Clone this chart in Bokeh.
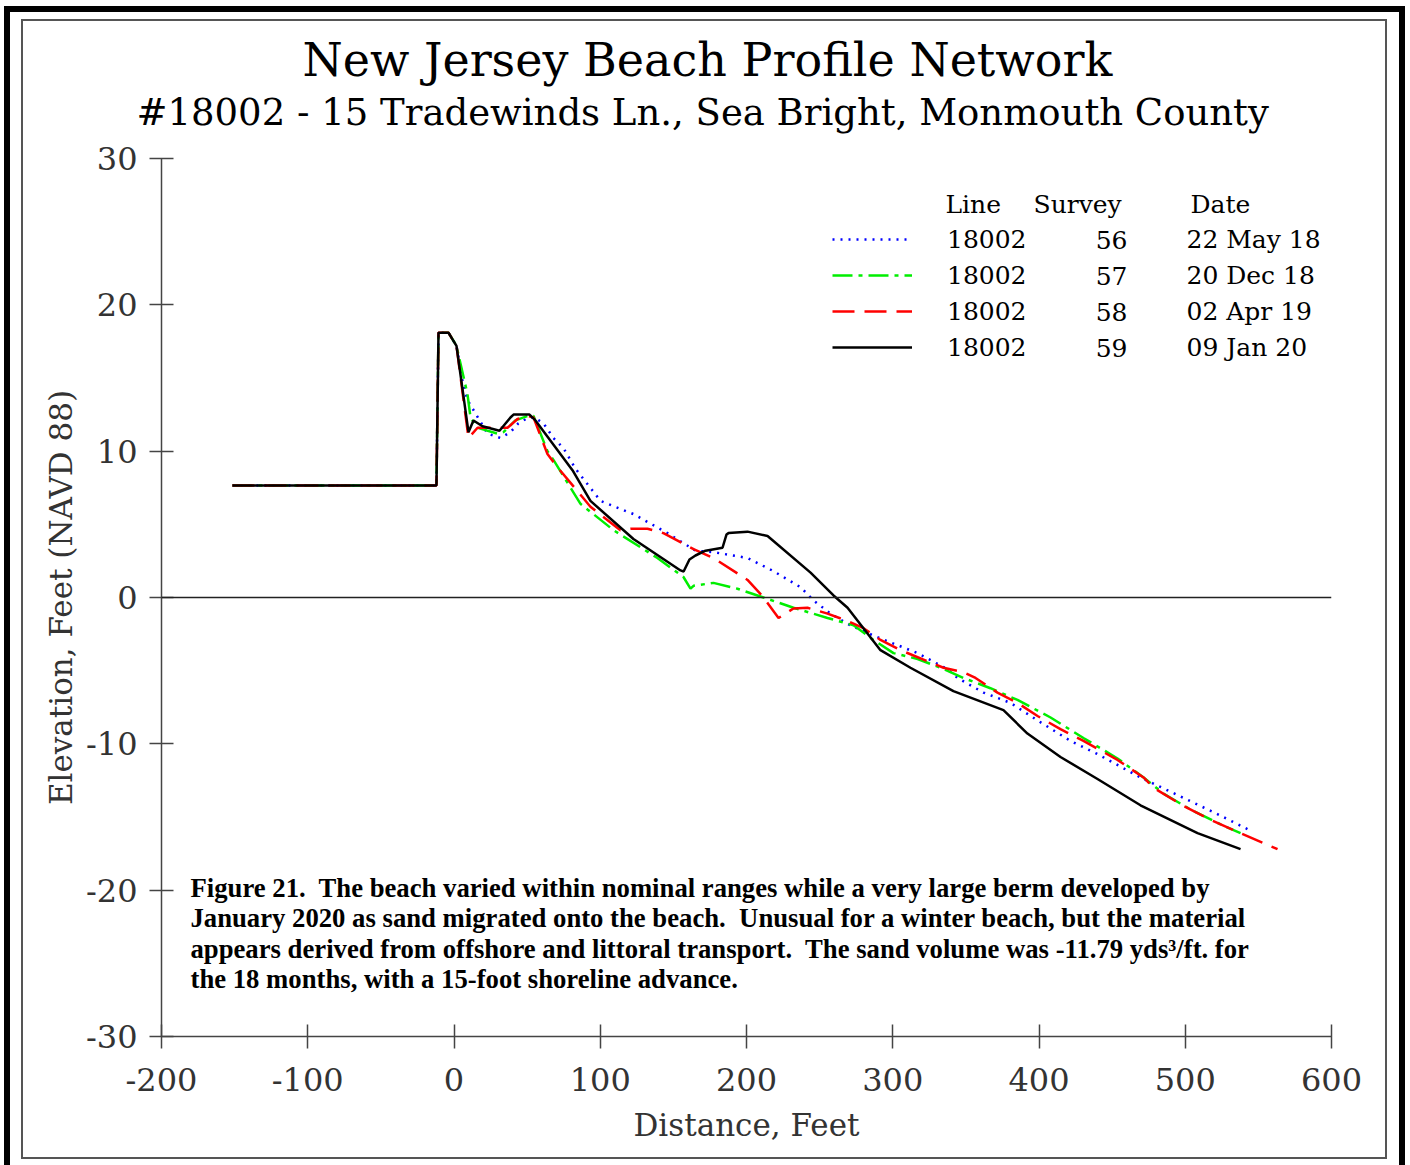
from bokeh.plotting import figure
from bokeh.models import Range1d, FixedTicker, Span, Label, Legend, LegendItem, Title
from bokeh.embed import file_html
from bokeh.resources import INLINE

# ---------------- data ----------------
x_ticks = [-200, -100, 0, 100, 200, 300, 400, 500, 600]
x_tick_labels = ["-200", "-100", "0", "100", "200", "300", "400", "500", "600"]
y_ticks = [-30, -20, -10, 0, 10, 20, 30]
y_tick_labels = ["-30", "-20", "-10", "0", "10", "20", "30"]

legend_lines = ["18002", "18002", "18002", "18002"]
legend_surveys = ["56", "57", "58", "59"]
legend_dates = ["22 May 18", "20 Dec 18", "02 Apr 19", "09 Jan 20"]

# common landward part of every profile
start_x = [-151.5, -12.0, -10.6, -3.8, 1.7]
start_y = [7.66, 7.66, 18.1, 18.1, 17.2]

s56_x = start_x + [5.8, 9.2, 22.9, 31.8, 38.6, 44.0, 51.0, 55.0, 61.2, 68.0, 74.9, 83.1, 100.2, 122.7,
                   146.0, 165.1, 177.4, 200.7, 218.5, 237.0, 245.8, 257.4, 269.0, 286.8, 316.9, 337.4,
                   344.3, 362.1, 380.5, 399.0, 421.5, 440.0, 469.4, 494.7, 522.0, 546.0]
s56_y = start_y + [14.8, 13.5, 11.2, 10.9, 11.3, 11.9, 12.3, 12.3, 11.9, 10.9, 10.2, 8.8, 6.6, 5.7,
                   4.4, 3.2, 3.1, 2.7, 1.8, 0.7, -0.2, -1.1, -1.8, -2.6, -3.8, -4.9,
                   -5.5, -6.5, -7.2, -8.4, -9.8, -10.7, -12.3, -13.5, -14.8, -16.0]

s57_x = start_x + [4.4, 9.2, 11.3, 16.1, 29.7, 33.8, 42.0, 50.3, 54.4, 63.9, 68.0, 86.5, 109.1, 139.1,
                   156.9, 161.7, 163.8, 177.4, 193.8, 211.6, 232.1, 255.4, 273.2, 286.8, 300.5, 317.0,
                   332.6, 348.4, 366.8, 385.3, 407.9, 430.4, 453.7, 471.5, 485.1, 505.6, 526.2, 537.8]
s57_y = start_y + [16.0, 13.9, 12.3, 11.6, 11.2, 11.3, 12.1, 12.4, 12.4, 10.0, 9.4, 6.4, 4.6, 2.7,
                   1.4, 0.6, 0.8, 1.0, 0.6, 0.0, -0.7, -1.4, -1.9, -2.9, -3.8, -4.2,
                   -4.8, -5.5, -6.2, -7.0, -8.2, -9.6, -11.0, -12.3, -13.4, -14.6, -15.6, -16.1]

s58_x = start_x + [9.9, 16.1, 31.8, 36.6, 43.4, 50.9, 54.4, 63.9, 70.8, 93.3, 113.8, 120.7, 132.3, 143.2,
                   163.8, 177.4, 200.7, 210.9, 221.9, 232.1, 241.7, 255.4, 269.0, 280.0, 291.6, 305.3,
                   334.7, 348.4, 356.6, 371.6, 385.3, 399.0, 414.7, 430.4, 453.7, 471.5, 478.3, 498.1,
                   517.3, 537.8, 563.1]
s58_y = start_y + [10.9, 11.6, 11.6, 11.6, 12.2, 12.4, 12.3, 9.8, 8.9, 6.2, 4.6, 4.7, 4.7, 4.4,
                   3.3, 2.7, 1.2, 0.1, -1.4, -0.75, -0.7, -1.1, -1.6, -2.1, -2.9, -3.6,
                   -4.8, -5.1, -5.5, -6.5, -7.2, -8.1, -9.0, -9.8, -11.1, -12.3, -13.0, -14.2,
                   -15.2, -16.1, -17.2]

s59_x = start_x + [9.9, 13.3, 19.5, 31.1, 38.6, 40.7, 51.6, 55.7, 81.0, 93.3, 122.7, 154.9, 157.0, 161.0,
                   165.1, 172.0, 183.6, 186.3, 187.7, 200.7, 214.4, 243.8, 259.5, 269.1, 291.6, 312.1,
                   341.5, 375.7, 392.1, 414.7, 440.0, 469.4, 508.4, 537.8]
s59_y = start_y + [11.3, 12.1, 11.7, 11.4, 12.3, 12.5, 12.5, 12.1, 8.7, 6.6, 4.0, 1.85, 1.78, 2.6,
                   2.87, 3.2, 3.4, 4.3, 4.4, 4.5, 4.2, 1.7, 0.14, -0.7, -3.6, -4.8,
                   -6.4, -7.7, -9.3, -10.9, -12.4, -14.2, -16.1, -17.2]

title_text = "New Jersey Beach Profile Network"
subtitle_text = "#18002 - 15 Tradewinds Ln., Sea Bright, Monmouth County"
NB = "\u00a0"
caption_lines = [
    "Figure 21." + NB + " The beach varied within nominal ranges while a very large berm developed by",
    "January 2020 as sand migrated onto the beach." + NB + " Unusual for a winter beach, but the material",
    "appears derived from offshore and littoral transport." + NB + " The sand volume was -11.79 yds\u00b3/ft. for",
    "the 18 months, with a 15-foot shoreline advance.",
]

SERIF = "DejaVu Serif"

# ---------------- figure ----------------
p = figure(width=1362, height=1136, x_range=Range1d(-200, 600), y_range=Range1d(-30, 30),
           output_backend="svg", toolbar_location=None,
           min_border_left=138, min_border_right=54, min_border_top=137, min_border_bottom=121)
p.grid.visible = False
p.outline_line_color = None
p.background_fill_color = "white"
p.border_fill_color = "white"
p.styles = {"margin-left": "23px", "margin-top": "21px",
            "outline": "2px solid #555555",
            "box-shadow": "0.5px 4.5px 0 13.5px white, 0.5px 4.5px 0 19.5px black"}

for ax, ticks, labels in ((p.xaxis[0], x_ticks, x_tick_labels), (p.yaxis[0], y_ticks, y_tick_labels)):
    ax.ticker = FixedTicker(ticks=ticks)
    ax.major_label_overrides = {t: l for t, l in zip(ticks, labels)}
    ax.major_tick_in = 12
    ax.major_tick_out = 12
    ax.minor_tick_line_color = None
    ax.axis_line_color = "#444444"
    ax.axis_line_width = 1.5
    ax.major_tick_line_color = "#444444"
    ax.major_tick_line_width = 1.5
    ax.major_label_text_font = SERIF
    ax.major_label_text_font_size = "32px"
    ax.major_label_text_color = "#333333"
    ax.axis_label_text_font = SERIF
    ax.axis_label_text_font_size = "31px"
    ax.axis_label_text_font_style = "normal"
    ax.axis_label_text_color = "#333333"

p.xaxis.axis_label = "Distance, Feet"
p.yaxis.axis_label = "Elevation, Feet (NAVD 88)"
p.xaxis.major_label_standoff = 19
p.yaxis.major_label_standoff = 12
p.xaxis.axis_label_standoff = 13
p.yaxis.axis_label_standoff = 4

# titles (subtitle first: it sits closest to the frame)
p.add_layout(Title(text=subtitle_text, align="left", offset=-25, standoff=50, text_font=SERIF,
                   text_font_size="37px", text_font_style="normal", text_color="black"), "above")
p.add_layout(Title(text=title_text, align="left", offset=141, standoff=-46, text_font=SERIF,
                   text_font_size="46px", text_font_style="normal", text_color="black"), "above")

p.add_layout(Span(location=0, dimension="width", line_color="#222222", line_width=1.5))

r56 = p.line(s56_x, s56_y, line_color="#0000ff", line_width=2.5, line_dash="2 6")
r57 = p.line(s57_x, s57_y, line_color="#00ee00", line_width=2.5, line_dash="20 6 4 6")
r58 = p.line(s58_x, s58_y, line_color="#ff0000", line_width=2.5, line_dash="22 10")
r59 = p.line(s59_x, s59_y, line_color="#000000", line_width=2.5)

legend = Legend(items=[LegendItem(label=legend_lines[i], renderers=[r])
                       for i, r in enumerate([r56, r57, r58, r59])],
                location=(671, 671), glyph_width=80, glyph_height=36, label_height=36,
                label_standoff=35, spacing=0, padding=0, margin=0,
                border_line_alpha=0, background_fill_alpha=0,
                label_text_font=SERIF, label_text_font_size="25px", label_text_color="black")
p.add_layout(legend, "center")

def lab(x, y, text, **kw):
    opts = dict(x=x, y=y, x_units="screen", y_units="screen", text=text,
                text_font=SERIF, text_font_size="25px", text_color="black",
                text_baseline="middle")
    opts.update(kw)
    p.add_layout(Label(**opts))

# legend headers and columns
lab(784, 832, "Line")
lab(872, 832, "Survey")
lab(1029, 832, "Date")
for i in range(4):
    sy = 797 - 36 * i
    lab(966, sy, legend_surveys[i], text_align="right")
    lab(1025, sy, legend_dates[i])

# caption
for i, t in enumerate(caption_lines):
    lab(29, 149 - 30.5 * i, t, text_font="Liberation Serif", text_font_style="bold",
        text_font_size="26.7px")

open("out.html", "w").write(file_html(p, INLINE))
